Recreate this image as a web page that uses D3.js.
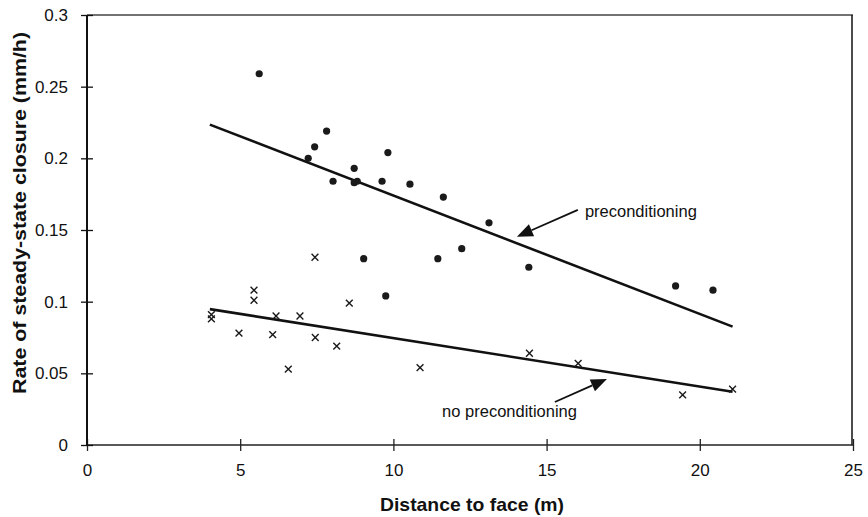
<!DOCTYPE html>
<html>
<head>
<meta charset="utf-8">
<script src="https://cdn.jsdelivr.net/npm/d3@7/dist/d3.min.js"></script>
<style>
  html, body { margin: 0; padding: 0; background: #fff; }
  svg { display: block; }
  text { font-family: "Liberation Sans", Arial, sans-serif; fill: #111; }
</style>
</head>
<body>
<svg id="chart" width="868" height="517"></svg>
<script>
// ---- data ----
const precondX = [5.62, 7.22, 7.43, 7.82, 8.03, 8.72, 8.72, 8.82, 9.03, 9.63, 9.82, 9.75, 10.54, 11.45, 11.63, 12.23, 13.12, 14.42, 19.21, 20.43];
const precondY = [0.259, 0.200, 0.208, 0.219, 0.184, 0.193, 0.183, 0.184, 0.130, 0.184, 0.204, 0.104, 0.182, 0.130, 0.173, 0.137, 0.155, 0.124, 0.111, 0.108];

const noPrecondX = [4.06, 4.06, 4.96, 5.45, 5.45, 6.06, 6.17, 6.57, 6.95, 7.44, 7.45, 8.15, 8.56, 10.87, 14.44, 16.03, 19.44, 21.07];
const noPrecondY = [0.091, 0.088, 0.078, 0.108, 0.101, 0.077, 0.090, 0.053, 0.090, 0.131, 0.075, 0.069, 0.099, 0.054, 0.064, 0.057, 0.035, 0.039];

const precondTrendX = [4.01, 21.07];
const precondTrendY = [0.2235, 0.0826];
const noPrecondTrendX = [4.01, 21.07];
const noPrecondTrendY = [0.0948, 0.0372];

const xTicks = [0, 5, 10, 15, 20, 25];
const yTicks = [0, 0.05, 0.1, 0.15, 0.2, 0.25, 0.3];
const yTickLabels = ["0", "0.05", "0.1", "0.15", "0.2", "0.25", "0.3"];

const xTitle = "Distance to face (m)";
const yTitle = "Rate of steady-state closure (mm/h)";
const labelPre = "preconditioning";
const labelNoPre = "no preconditioning";
// annotation anchors (data units): text start, arrow tail, arrow tip
const annPre = { text: [16.25, 0.159], tail: [16.02, 0.164], tip: [14.03, 0.1453] };
const annNoPre = { text: [11.59, 0.0196], tail: [15.27, 0.030], tip: [16.97, 0.0461] };

// ---- scales ----
const svg = d3.select("#chart");
const x = d3.scaleLinear().domain([0, 25]).range([87, 853]);
const y = d3.scaleLinear().domain([0, 0.3]).range([445, 15]);

// frame (top and right)
svg.append("line").attr("x1", x(0)).attr("x2", x(25)).attr("y1", y(0.3)).attr("y2", y(0.3))
  .attr("stroke", "#444").attr("stroke-width", 1.5);
svg.append("line").attr("x1", x(25) - 1).attr("x2", x(25) - 1).attr("y1", y(0.3)).attr("y2", y(0))
  .attr("stroke", "#111").attr("stroke-width", 1.5);

// x axis
const gx = svg.append("g").attr("transform", `translate(0,${y(0)})`)
  .call(d3.axisBottom(x).tickValues(xTicks).tickSize(6).tickPadding(13).tickFormat(d3.format("d")));
gx.select(".domain").attr("stroke", "#222").attr("stroke-width", 1.6);
gx.selectAll(".tick line").attr("y1", -6).attr("y2", 6).attr("stroke", "#222").attr("stroke-width", 1.3);
gx.selectAll(".tick text").attr("font-size", 17).attr("fill", "#111")
  .style("font-family", '"Liberation Sans", Arial, sans-serif');

// y axis
const gy = svg.append("g").attr("transform", `translate(${x(0)},0)`)
  .call(d3.axisLeft(y).tickValues(yTicks).tickSize(6).tickPadding(13)
    .tickFormat((d, i) => yTickLabels[i]));
gy.select(".domain").attr("stroke", "#111").attr("stroke-width", 2);
gy.selectAll(".tick line").attr("x1", 6).attr("x2", -6).attr("stroke", "#111").attr("stroke-width", 1.3);
gy.selectAll(".tick text").attr("font-size", 17).attr("fill", "#111")
  .style("font-family", '"Liberation Sans", Arial, sans-serif');
gx.select(".domain").attr("d", `M${x(0)},0H${x(25)}`);
gy.select(".domain").attr("d", `M0,${y(0)}V${y(0.3)}`);

// axis titles
svg.append("text").attr("x", (x(0) + x(25)) / 2 + 2).attr("y", 511)
  .attr("text-anchor", "middle").attr("font-size", 18.5).attr("font-weight", "bold")
  .attr("textLength", 184).attr("lengthAdjust", "spacingAndGlyphs")
  .text(xTitle);
svg.append("text").attr("transform", "translate(26,213) rotate(-90)")
  .attr("text-anchor", "middle").attr("font-size", 18.5).attr("font-weight", "bold")
  .attr("textLength", 362).attr("lengthAdjust", "spacingAndGlyphs")
  .text(yTitle);

// trend lines
const line = d3.line().x(d => x(d[0])).y(d => y(d[1]));
svg.append("path").attr("d", line(d3.zip(precondTrendX, precondTrendY)))
  .attr("stroke", "#111").attr("stroke-width", 2.6).attr("fill", "none");
svg.append("path").attr("d", line(d3.zip(noPrecondTrendX, noPrecondTrendY)))
  .attr("stroke", "#111").attr("stroke-width", 2.6).attr("fill", "none");

// preconditioning points (filled circles)
svg.append("g").selectAll("circle").data(d3.zip(precondX, precondY)).join("circle")
  .attr("cx", d => x(d[0])).attr("cy", d => y(d[1])).attr("r", 3.6)
  .attr("fill", "#1a1a1a");

// no preconditioning points (crosses)
const s = 3.4;
svg.append("g").selectAll("path").data(d3.zip(noPrecondX, noPrecondY)).join("path")
  .attr("d", d => {
    const cx = x(d[0]), cy = y(d[1]);
    return `M${cx - s},${cy - s}L${cx + s},${cy + s}M${cx - s},${cy + s}L${cx + s},${cy - s}`;
  })
  .attr("stroke", "#1a1a1a").attr("stroke-width", 1.4).attr("fill", "none");

// annotations with arrows
function arrow(a) {
  const tx = x(a.tail[0]), ty = y(a.tail[1]);
  const hx = x(a.tip[0]), hy = y(a.tip[1]);
  const ang = Math.atan2(hy - ty, hx - tx);
  const len = 16, half = 6.5;
  const bx = hx - len * Math.cos(ang), by = hy - len * Math.sin(ang);
  svg.append("line").attr("x1", tx).attr("y1", ty).attr("x2", bx).attr("y2", by)
    .attr("stroke", "#111").attr("stroke-width", 1.8);
  const p1 = [bx + half * Math.sin(ang), by - half * Math.cos(ang)];
  const p2 = [bx - half * Math.sin(ang), by + half * Math.cos(ang)];
  svg.append("path").attr("d", `M${hx},${hy}L${p1[0]},${p1[1]}L${p2[0]},${p2[1]}Z`)
    .attr("fill", "#111");
}
arrow(annPre);
arrow(annNoPre);
svg.append("text").attr("x", x(annPre.text[0])).attr("y", y(annPre.text[1]))
  .attr("font-size", 16.5).text(labelPre);
svg.append("text").attr("x", x(annNoPre.text[0])).attr("y", y(annNoPre.text[1]))
  .attr("font-size", 16.5).text(labelNoPre);
</script>
</body>
</html>
